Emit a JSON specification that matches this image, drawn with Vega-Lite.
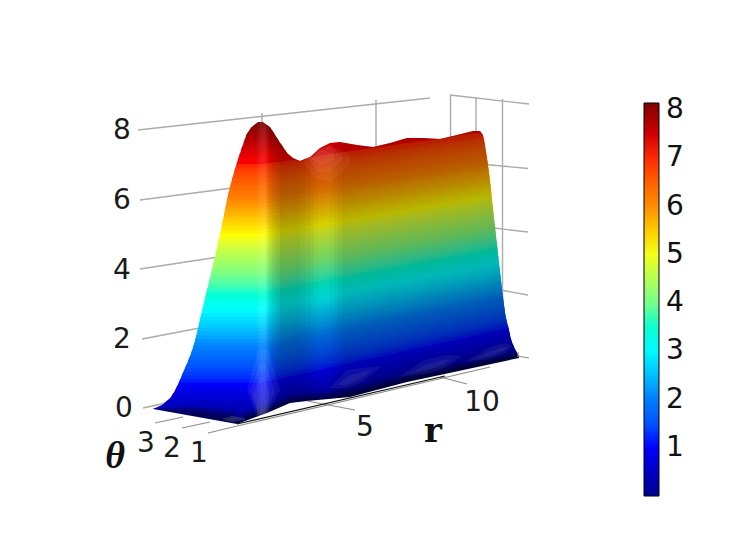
{"$schema":"https://vega.github.io/schema/vega-lite/v6.json","width":752,"height":536,"padding":0,"autosize":"none","background":"white","config":{"view":{"stroke":null}},
"datasets":{
"walls":[{"g":"a","u":138,"v":130},{"g":"a","u":430,"v":98},{"g":"b","u":140,"v":200},{"g":"b","u":240,"v":187},{"g":"c","u":140,"v":269},{"g":"c","u":225,"v":256},{"g":"d","u":142,"v":339},{"g":"d","u":205,"v":327},{"g":"e","u":143,"v":408},{"g":"e","u":175,"v":401},{"g":"f","u":262,"v":113},{"g":"f","u":262.01,"v":125},{"g":"h","u":376,"v":100},{"g":"h","u":376.01,"v":150},{"g":"i","u":450.5,"v":95},{"g":"i","u":450.51,"v":140},{"g":"j","u":476,"v":97},{"g":"j","u":476.01,"v":135},{"g":"k","u":502.5,"v":99},{"g":"k","u":502.51,"v":300},{"g":"l","u":450,"v":95},{"g":"l","u":529,"v":104},{"g":"m","u":480,"v":164},{"g":"m","u":528,"v":168.5},{"g":"n","u":485,"v":227},{"g":"n","u":528,"v":232},{"g":"o","u":495,"v":289},{"g":"o","u":528,"v":295}],
"floor":[{"g":"a","u":155,"v":423},{"g":"a","u":183,"v":417},{"g":"b","u":182,"v":428},{"g":"b","u":210,"v":422},{"g":"c","u":208,"v":433},{"g":"c","u":237,"v":426},{"g":"d","u":307,"v":401},{"g":"d","u":355,"v":410},{"g":"e","u":440,"v":377},{"g":"e","u":467,"v":384},{"g":"f","u":517,"v":356},{"g":"f","u":529,"v":358},{"g":"h","u":237,"v":426},{"g":"h","u":490,"v":367}],
"edge":[{"u":237,"v":424},{"u":445,"v":376}],
"levels":[
{"z":8.15,"u":250.9,"v":127.8},{"z":8.15,"u":255,"v":124.2},{"z":8.15,"u":258,"v":122},{"z":8.15,"u":263,"v":122},{"z":8.15,"u":266,"v":124.2},{"z":8.15,"u":270,"v":127},
{"z":8,"u":246.3,"v":135.1},{"z":8,"u":250.9,"v":127.8},{"z":8,"u":262,"v":127.8},{"z":8,"u":270,"v":127},{"z":8,"u":274.5,"v":134},
{"z":7.9,"u":246.3,"v":135.1},{"z":7.9,"u":248.6,"v":131.5},{"z":7.9,"u":262,"v":131.5},{"z":7.9,"u":272.2,"v":130.5},{"z":7.9,"u":274.5,"v":134},
{"z":7.8,"u":243.8,"v":142.4},{"z":7.8,"u":246.3,"v":135.1},{"z":7.8,"u":262,"v":135.1},{"z":7.8,"u":274.5,"v":134},{"z":7.8,"u":278.5,"v":140.5},
{"z":7.7,"u":243.8,"v":142.4},{"z":7.7,"u":245,"v":138.8},{"z":7.7,"u":262,"v":138.8},{"z":7.7,"u":276.5,"v":137.2},{"z":7.7,"u":278.5,"v":140.5},
{"z":7.6,"u":241.3,"v":149.6},{"z":7.6,"u":243.8,"v":142.4},{"z":7.6,"u":262,"v":142.4},{"z":7.6,"u":278.5,"v":140.5},{"z":7.6,"u":283,"v":147},
{"z":7.5,"u":241.3,"v":149.6},{"z":7.5,"u":242.5,"v":146},{"z":7.5,"u":262,"v":146},{"z":7.5,"u":280.7,"v":143.7},{"z":7.5,"u":283,"v":147},
{"z":7.4,"u":238.8,"v":156.9},{"z":7.4,"u":241.3,"v":149.6},{"z":7.4,"u":262,"v":149.6},{"z":7.4,"u":283,"v":147},{"z":7.4,"u":287,"v":153},
{"z":7.3,"u":238.8,"v":156.9},{"z":7.3,"u":240,"v":153.2},{"z":7.3,"u":262,"v":153.2},{"z":7.3,"u":285,"v":150},{"z":7.3,"u":287,"v":153},
{"z":7.2,"u":236.4,"v":164.2},{"z":7.2,"u":238.8,"v":156.9},{"z":7.2,"u":262,"v":156.9},{"z":7.2,"u":287,"v":153},{"z":7.2,"u":293,"v":158},{"z":7.2,"u":300,"v":161},{"z":7.2,"u":310,"v":157},{"z":7.2,"u":320,"v":148},{"z":7.2,"u":330,"v":143},{"z":7.2,"u":340,"v":142},{"z":7.2,"u":357,"v":145},{"z":7.2,"u":373,"v":147},{"z":7.2,"u":390,"v":143},{"z":7.2,"u":407,"v":138},{"z":7.2,"u":423,"v":138},{"z":7.2,"u":440,"v":139},{"z":7.2,"u":457,"v":135},{"z":7.2,"u":473,"v":131},{"z":7.2,"u":480,"v":131},{"z":7.2,"u":483,"v":135},
{"z":7,"u":234.3,"v":171.5},{"z":7,"u":236.4,"v":164.2},{"z":7,"u":262,"v":164.2},{"z":7,"u":293,"v":159.9},{"z":7,"u":300,"v":161},{"z":7,"u":310,"v":157.3},{"z":7,"u":320,"v":155.7},{"z":7,"u":340,"v":152.8},{"z":7,"u":373,"v":147.9},{"z":7,"u":390,"v":145.5},{"z":7,"u":407,"v":143},{"z":7,"u":440,"v":139},{"z":7,"u":457,"v":135.8},{"z":7,"u":473,"v":133.4},{"z":7,"u":482,"v":133.5},{"z":7,"u":483.7,"v":138.4},
{"z":6.9,"u":234.3,"v":171.5},{"z":6.9,"u":235.4,"v":167.8},{"z":6.9,"u":262,"v":167.8},{"z":6.9,"u":483.4,"v":136.5},{"z":6.9,"u":483.7,"v":138.4},
{"z":6.8,"u":232.3,"v":178.8},{"z":6.8,"u":234.3,"v":171.5},{"z":6.8,"u":262,"v":171.5},{"z":6.8,"u":483.7,"v":138.4},{"z":6.8,"u":485,"v":145},
{"z":6.7,"u":232.3,"v":178.8},{"z":6.7,"u":233.3,"v":175.2},{"z":6.7,"u":262,"v":175.2},{"z":6.7,"u":484.4,"v":141.7},{"z":6.7,"u":485,"v":145},
{"z":6.6,"u":230.3,"v":186},{"z":6.6,"u":232.3,"v":178.8},{"z":6.6,"u":262,"v":178.8},{"z":6.6,"u":485,"v":145},{"z":6.6,"u":486,"v":151.6},
{"z":6.5,"u":230.3,"v":186},{"z":6.5,"u":231.3,"v":182.4},{"z":6.5,"u":262,"v":182.4},{"z":6.5,"u":485.5,"v":148.3},{"z":6.5,"u":486,"v":151.6},
{"z":6.4,"u":228.5,"v":193.3},{"z":6.4,"u":230.3,"v":186},{"z":6.4,"u":262,"v":186},{"z":6.4,"u":486,"v":151.6},{"z":6.4,"u":487,"v":157.8},
{"z":6.3,"u":228.5,"v":193.3},{"z":6.3,"u":229.4,"v":189.7},{"z":6.3,"u":262,"v":189.7},{"z":6.3,"u":486.5,"v":154.7},{"z":6.3,"u":487,"v":157.8},
{"z":6.2,"u":226.9,"v":200.6},{"z":6.2,"u":228.5,"v":193.3},{"z":6.2,"u":262,"v":193.3},{"z":6.2,"u":487,"v":157.8},{"z":6.2,"u":488,"v":164.5},
{"z":6.1,"u":226.9,"v":200.6},{"z":6.1,"u":227.7,"v":197},{"z":6.1,"u":262,"v":197},{"z":6.1,"u":487.5,"v":161.2},{"z":6.1,"u":488,"v":164.5},
{"z":6,"u":225.4,"v":207.9},{"z":6,"u":226.9,"v":200.6},{"z":6,"u":262,"v":200.6},{"z":6,"u":488,"v":164.5},{"z":6,"u":488.8,"v":171},
{"z":5.9,"u":225.4,"v":207.9},{"z":5.9,"u":226.2,"v":204.3},{"z":5.9,"u":262,"v":204.3},{"z":5.9,"u":488.4,"v":167.8},{"z":5.9,"u":488.8,"v":171},
{"z":5.8,"u":224,"v":215.2},{"z":5.8,"u":225.4,"v":207.9},{"z":5.8,"u":262,"v":207.9},{"z":5.8,"u":488.8,"v":171},{"z":5.8,"u":489.8,"v":178},
{"z":5.7,"u":224,"v":215.2},{"z":5.7,"u":224.7,"v":211.6},{"z":5.7,"u":262,"v":211.6},{"z":5.7,"u":489.3,"v":174.5},{"z":5.7,"u":489.8,"v":178},
{"z":5.6,"u":222.5,"v":222.4},{"z":5.6,"u":224,"v":215.2},{"z":5.6,"u":262,"v":215.2},{"z":5.6,"u":489.8,"v":178},{"z":5.6,"u":490.4,"v":184.5},
{"z":5.5,"u":222.5,"v":222.4},{"z":5.5,"u":223.3,"v":218.8},{"z":5.5,"u":262,"v":218.8},{"z":5.5,"u":490.1,"v":181.3},{"z":5.5,"u":490.4,"v":184.5},
{"z":5.4,"u":221.1,"v":229.7},{"z":5.4,"u":222.5,"v":222.4},{"z":5.4,"u":262,"v":222.4},{"z":5.4,"u":490.4,"v":184.5},{"z":5.4,"u":491.2,"v":191},
{"z":5.3,"u":221.1,"v":229.7},{"z":5.3,"u":221.8,"v":226},{"z":5.3,"u":262,"v":226},{"z":5.3,"u":490.8,"v":187.8},{"z":5.3,"u":491.2,"v":191},
{"z":5.2,"u":219.5,"v":237},{"z":5.2,"u":221.1,"v":229.7},{"z":5.2,"u":262,"v":229.7},{"z":5.2,"u":491.2,"v":191},{"z":5.2,"u":491.8,"v":197.7},
{"z":5.1,"u":219.5,"v":237},{"z":5.1,"u":220.3,"v":233.4},{"z":5.1,"u":262,"v":233.4},{"z":5.1,"u":491.5,"v":194.4},{"z":5.1,"u":491.8,"v":197.7},
{"z":5,"u":217.9,"v":244.3},{"z":5,"u":219.5,"v":237},{"z":5,"u":262,"v":237},{"z":5,"u":491.8,"v":197.7},{"z":5,"u":492.5,"v":204.3},
{"z":4.9,"u":217.9,"v":244.3},{"z":4.9,"u":218.7,"v":240.7},{"z":4.9,"u":262,"v":240.7},{"z":4.9,"u":492.2,"v":201},{"z":4.9,"u":492.5,"v":204.3},
{"z":4.8,"u":216.2,"v":251.6},{"z":4.8,"u":217.9,"v":244.3},{"z":4.8,"u":262,"v":244.3},{"z":4.8,"u":492.5,"v":204.3},{"z":4.8,"u":493.2,"v":211},
{"z":4.7,"u":216.2,"v":251.6},{"z":4.7,"u":217,"v":248},{"z":4.7,"u":262,"v":248},{"z":4.7,"u":492.9,"v":207.7},{"z":4.7,"u":493.2,"v":211},
{"z":4.6,"u":214.6,"v":258.8},{"z":4.6,"u":216.2,"v":251.6},{"z":4.6,"u":262,"v":251.6},{"z":4.6,"u":493.2,"v":211},{"z":4.6,"u":493.8,"v":217.5},
{"z":4.5,"u":214.6,"v":258.8},{"z":4.5,"u":215.4,"v":255.2},{"z":4.5,"u":262,"v":255.2},{"z":4.5,"u":493.5,"v":214.3},{"z":4.5,"u":493.8,"v":217.5},
{"z":4.4,"u":212.8,"v":266.1},{"z":4.4,"u":214.6,"v":258.8},{"z":4.4,"u":262,"v":258.8},{"z":4.4,"u":493.8,"v":217.5},{"z":4.4,"u":494.5,"v":224},
{"z":4.3,"u":212.8,"v":266.1},{"z":4.3,"u":213.7,"v":262.5},{"z":4.3,"u":262,"v":262.5},{"z":4.3,"u":494.2,"v":220.8},{"z":4.3,"u":494.5,"v":224},
{"z":4.2,"u":211,"v":273.4},{"z":4.2,"u":212.8,"v":266.1},{"z":4.2,"u":262,"v":266.1},{"z":4.2,"u":494.5,"v":224},{"z":4.2,"u":495.3,"v":230.6},
{"z":4.1,"u":211,"v":273.4},{"z":4.1,"u":211.9,"v":269.8},{"z":4.1,"u":262,"v":269.8},{"z":4.1,"u":494.9,"v":227.3},{"z":4.1,"u":495.3,"v":230.6},
{"z":4,"u":209.3,"v":280.7},{"z":4,"u":211,"v":273.4},{"z":4,"u":262,"v":273.4},{"z":4,"u":495.3,"v":230.6},{"z":4,"u":496,"v":237},
{"z":3.9,"u":209.3,"v":280.7},{"z":3.9,"u":210.2,"v":277},{"z":3.9,"u":262,"v":277},{"z":3.9,"u":495.7,"v":233.8},{"z":3.9,"u":496,"v":237},
{"z":3.8,"u":207.5,"v":288},{"z":3.8,"u":209.3,"v":280.7},{"z":3.8,"u":262,"v":280.7},{"z":3.8,"u":496,"v":237},{"z":3.8,"u":497,"v":243.7},
{"z":3.7,"u":207.5,"v":288},{"z":3.7,"u":208.4,"v":284.4},{"z":3.7,"u":262,"v":284.4},{"z":3.7,"u":496.5,"v":240.4},{"z":3.7,"u":497,"v":243.7},
{"z":3.6,"u":205.8,"v":295.2},{"z":3.6,"u":207.5,"v":288},{"z":3.6,"u":262,"v":288},{"z":3.6,"u":497,"v":243.7},{"z":3.6,"u":497.5,"v":250.5},
{"z":3.5,"u":205.8,"v":295.2},{"z":3.5,"u":206.7,"v":291.6},{"z":3.5,"u":262,"v":291.6},{"z":3.5,"u":497.3,"v":247.1},{"z":3.5,"u":497.5,"v":250.5},
{"z":3.4,"u":204,"v":302.5},{"z":3.4,"u":205.8,"v":295.2},{"z":3.4,"u":262,"v":295.2},{"z":3.4,"u":497.5,"v":250.5},{"z":3.4,"u":498.3,"v":257},
{"z":3.3,"u":204,"v":302.5},{"z":3.3,"u":204.9,"v":298.9},{"z":3.3,"u":262,"v":298.9},{"z":3.3,"u":497.9,"v":253.8},{"z":3.3,"u":498.3,"v":257},
{"z":3.2,"u":202.3,"v":309.8},{"z":3.2,"u":204,"v":302.5},{"z":3.2,"u":262,"v":302.5},{"z":3.2,"u":498.3,"v":257},{"z":3.2,"u":499,"v":263.5},
{"z":3.1,"u":202.3,"v":309.8},{"z":3.1,"u":203.2,"v":306.2},{"z":3.1,"u":262,"v":306.2},{"z":3.1,"u":498.7,"v":260.3},{"z":3.1,"u":499,"v":263.5},
{"z":3,"u":200.6,"v":317},{"z":3,"u":202.3,"v":309.8},{"z":3,"u":262,"v":309.8},{"z":3,"u":499,"v":263.5},{"z":3,"u":500,"v":270},
{"z":2.9,"u":200.6,"v":317},{"z":2.9,"u":201.5,"v":313.4},{"z":2.9,"u":262,"v":313.4},{"z":2.9,"u":499.5,"v":266.8},{"z":2.9,"u":500,"v":270},
{"z":2.8,"u":198.9,"v":324.4},{"z":2.8,"u":200.6,"v":317},{"z":2.8,"u":262,"v":317},{"z":2.8,"u":500,"v":270},{"z":2.8,"u":500.5,"v":276.5},
{"z":2.7,"u":198.9,"v":324.4},{"z":2.7,"u":199.8,"v":320.7},{"z":2.7,"u":262,"v":320.7},{"z":2.7,"u":500.3,"v":273.3},{"z":2.7,"u":500.5,"v":276.5},
{"z":2.6,"u":197.2,"v":331.6},{"z":2.6,"u":198.9,"v":324.4},{"z":2.6,"u":262,"v":324.4},{"z":2.6,"u":500.5,"v":276.5},{"z":2.6,"u":501.3,"v":283},
{"z":2.5,"u":197.2,"v":331.6},{"z":2.5,"u":198.1,"v":328},{"z":2.5,"u":262,"v":328},{"z":2.5,"u":500.9,"v":279.8},{"z":2.5,"u":501.3,"v":283},
{"z":2.4,"u":195.5,"v":338.9},{"z":2.4,"u":197.2,"v":331.6},{"z":2.4,"u":262,"v":331.6},{"z":2.4,"u":501.3,"v":283},{"z":2.4,"u":502,"v":290},
{"z":2.3,"u":195.5,"v":338.9},{"z":2.3,"u":196.4,"v":335.3},{"z":2.3,"u":262,"v":335.3},{"z":2.3,"u":501.7,"v":286.5},{"z":2.3,"u":502,"v":290},
{"z":2.2,"u":193.4,"v":346.2},{"z":2.2,"u":195.5,"v":338.9},{"z":2.2,"u":262,"v":338.9},{"z":2.2,"u":502,"v":290},{"z":2.2,"u":503,"v":296},
{"z":2.1,"u":193.4,"v":346.2},{"z":2.1,"u":194.5,"v":342.6},{"z":2.1,"u":262,"v":342.6},{"z":2.1,"u":502.5,"v":293},{"z":2.1,"u":503,"v":296},
{"z":2,"u":191,"v":353.5},{"z":2,"u":193.4,"v":346.2},{"z":2,"u":262,"v":346.2},{"z":2,"u":503,"v":296},{"z":2,"u":503.7,"v":303},
{"z":1.9,"u":191,"v":353.5},{"z":1.9,"u":192.2,"v":349.9},{"z":1.9,"u":262,"v":349.9},{"z":1.9,"u":503.4,"v":299.5},{"z":1.9,"u":503.7,"v":303},
{"z":1.8,"u":188.2,"v":360.8},{"z":1.8,"u":191,"v":353.5},{"z":1.8,"u":262,"v":353.5},{"z":1.8,"u":503.7,"v":303},{"z":1.8,"u":504.5,"v":309},
{"z":1.7,"u":188.2,"v":360.8},{"z":1.7,"u":189.6,"v":357.2},{"z":1.7,"u":262,"v":357.2},{"z":1.7,"u":504.1,"v":306},{"z":1.7,"u":504.5,"v":309},
{"z":1.6,"u":185,"v":368},{"z":1.6,"u":188.2,"v":360.8},{"z":1.6,"u":262,"v":360.8},{"z":1.6,"u":504.5,"v":309},{"z":1.6,"u":505.5,"v":316},
{"z":1.5,"u":185,"v":368},{"z":1.5,"u":186.6,"v":364.4},{"z":1.5,"u":262,"v":364.4},{"z":1.5,"u":505,"v":312.5},{"z":1.5,"u":505.5,"v":316},
{"z":1.4,"u":181.9,"v":375.3},{"z":1.4,"u":185,"v":368},{"z":1.4,"u":262,"v":368},{"z":1.4,"u":505.5,"v":316},{"z":1.4,"u":507,"v":322},
{"z":1.3,"u":181.9,"v":375.3},{"z":1.3,"u":183.5,"v":371.7},{"z":1.3,"u":262,"v":371.7},{"z":1.3,"u":506.3,"v":319},{"z":1.3,"u":507,"v":322},
{"z":1.2,"u":178.9,"v":382.6},{"z":1.2,"u":181.9,"v":375.3},{"z":1.2,"u":262,"v":375.3},{"z":1.2,"u":507,"v":322},{"z":1.2,"u":508.5,"v":328},
{"z":1.1,"u":178.9,"v":382.6},{"z":1.1,"u":180.4,"v":379},{"z":1.1,"u":262,"v":379},{"z":1.1,"u":507.8,"v":325},{"z":1.1,"u":508.5,"v":328},
{"z":1,"u":175.3,"v":389.9},{"z":1,"u":178.9,"v":382.6},{"z":1,"u":262,"v":382.6},{"z":1,"u":508.5,"v":328},{"z":1,"u":510,"v":335},
{"z":0.9,"u":175.3,"v":389.9},{"z":0.9,"u":177.1,"v":386.3},{"z":0.9,"u":262,"v":386.3},{"z":0.9,"u":509.3,"v":331.5},{"z":0.9,"u":510,"v":335},
{"z":0.8,"u":170.9,"v":397.2},{"z":0.8,"u":175.3,"v":389.9},{"z":0.8,"u":262,"v":389.9},{"z":0.8,"u":510,"v":335},{"z":0.8,"u":511.5,"v":341},
{"z":0.7,"u":170.9,"v":397.2},{"z":0.7,"u":173.1,"v":393.6},{"z":0.7,"u":262,"v":393.6},{"z":0.7,"u":510.8,"v":338},{"z":0.7,"u":511.5,"v":341},
{"z":0.6,"u":163,"v":404.4},{"z":0.6,"u":170.9,"v":397.2},{"z":0.6,"u":262,"v":397.2},{"z":0.6,"u":511.5,"v":341},{"z":0.6,"u":514,"v":347},
{"z":0.5,"u":163,"v":404.4},{"z":0.5,"u":167,"v":400.8},{"z":0.5,"u":262,"v":400.8},{"z":0.5,"u":512.8,"v":344},{"z":0.5,"u":514,"v":347},
{"z":0.4,"u":153,"v":409},{"z":0.4,"u":163,"v":404.4},{"z":0.4,"u":262,"v":404.4},{"z":0.4,"u":514,"v":347},{"z":0.4,"u":517,"v":353},
{"z":0.3,"u":153,"v":409},{"z":0.3,"u":155,"v":408},{"z":0.3,"u":262,"v":408},{"z":0.3,"u":515.5,"v":350},{"z":0.3,"u":517,"v":353},
{"z":0.2,"u":168,"v":411.7},{"z":0.2,"u":262,"v":411.7},{"z":0.2,"u":517,"v":353},{"z":0.2,"u":519,"v":358},
{"z":0.1,"u":185,"v":415.4},{"z":0.1,"u":262,"v":415.4},{"z":0.1,"u":518,"v":355.5},{"z":0.1,"u":519,"v":358},
{"z":0,"u":209,"v":419},{"z":0,"u":262,"v":419},{"z":0,"u":519,"v":358}],
"dark":[
{"g":"a1","s":0.05,"u":266,"v":124.2},{"g":"a1","s":0.05,"u":268,"v":125.6},
{"g":"a2","s":0.1,"u":268,"v":125.6},{"g":"a2","s":0.1,"u":270,"v":127},
{"g":"b1","s":0.14,"u":270,"v":127},{"g":"b1","s":0.14,"u":272,"v":130.2},
{"g":"b2","s":0.18,"u":272,"v":130.2},{"g":"b2","s":0.18,"u":274,"v":133.3},
{"g":"c1","s":0.22,"u":274,"v":133.3},{"g":"c1","s":0.22,"u":277,"v":138},
{"g":"c2","s":0.26,"u":277,"v":138},{"g":"c2","s":0.26,"u":280,"v":142.5},
{"g":"d","s":0.3,"u":280,"v":142.5},{"g":"d","s":0.3,"u":287,"v":153},{"g":"d","s":0.3,"u":293,"v":158},{"g":"d","s":0.3,"u":300,"v":161},
{"g":"e1","s":0.28,"u":300,"v":161},{"g":"e1","s":0.28,"u":305,"v":159},
{"g":"e2","s":0.25,"u":305,"v":159},{"g":"e2","s":0.25,"u":310,"v":157},
{"g":"f1","s":0.22,"u":310,"v":157},{"g":"f1","s":0.22,"u":314,"v":153.4},
{"g":"f2","s":0.19,"u":314,"v":153.4},{"g":"f2","s":0.19,"u":318,"v":149.8},
{"g":"h","s":0.17,"u":318,"v":149.8},{"g":"h","s":0.17,"u":320,"v":148},{"g":"h","s":0.17,"u":330,"v":143},
{"g":"h2","s":0.19,"u":330,"v":143},{"g":"h2","s":0.19,"u":334,"v":142.6},
{"g":"i1","s":0.22,"u":334,"v":142.6},{"g":"i1","s":0.22,"u":338,"v":142.2},
{"g":"i2","s":0.25,"u":338,"v":142.2},{"g":"i2","s":0.25,"u":342,"v":142.4},
{"g":"j","s":0.28,"u":342,"v":142.4},{"g":"j","s":0.28,"u":357,"v":145},{"g":"j","s":0.28,"u":373,"v":147},{"g":"j","s":0.28,"u":390,"v":143},{"g":"j","s":0.28,"u":407,"v":138},{"g":"j","s":0.28,"u":423,"v":138},{"g":"j","s":0.28,"u":440,"v":139},{"g":"j","s":0.28,"u":457,"v":135},{"g":"j","s":0.28,"u":473,"v":131},{"g":"j","s":0.28,"u":480,"v":131},{"g":"j","s":0.28,"u":483,"v":135},{"g":"j","s":0.28,"u":487,"v":157.8},{"g":"j","s":0.28,"u":490.4,"v":184.5},{"g":"j","s":0.28,"u":497,"v":243.7},{"g":"j","s":0.28,"u":501.3,"v":283},{"g":"j","s":0.28,"u":505.5,"v":316},{"g":"j","s":0.28,"u":511.5,"v":341},{"g":"j","s":0.28,"u":519,"v":358}],
"band":[
{"g":"a","s":0.25,"u":153,"v":409,"w":409},{"g":"a","s":0.25,"u":195,"v":407,"w":417},{"g":"a","s":0.25,"u":237,"v":412,"w":424},
{"g":"b","s":0.25,"u":153,"v":409,"w":409},{"g":"b","s":0.25,"u":195,"v":411,"w":417},{"g":"b","s":0.25,"u":237,"v":418,"w":424},
{"g":"c","s":0.25,"u":237,"v":416,"w":424},{"g":"c","s":0.25,"u":267,"v":405,"w":413},{"g":"c","s":0.25,"u":290,"v":396,"w":403},{"g":"c","s":0.25,"u":307,"v":394,"w":401},{"g":"c","s":0.25,"u":350,"v":389,"w":397},{"g":"c","s":0.25,"u":407,"v":374,"w":382},{"g":"c","s":0.25,"u":440,"v":367,"w":375},{"g":"c","s":0.25,"u":519,"v":352,"w":358},
{"g":"d","s":0.3,"u":237,"v":420,"w":424},{"g":"d","s":0.3,"u":267,"v":409,"w":413},{"g":"d","s":0.3,"u":290,"v":400,"w":403},{"g":"d","s":0.3,"u":307,"v":398,"w":401},{"g":"d","s":0.3,"u":350,"v":393,"w":397},{"g":"d","s":0.3,"u":407,"v":378,"w":382},{"g":"d","s":0.3,"u":440,"v":371,"w":375},{"g":"d","s":0.3,"u":519,"v":355,"w":358}],
"light":[
{"g":"a","s":0.05,"u":257,"v":122.8,"w":420},{"g":"a","s":0.05,"u":263,"v":122,"w":420},{"g":"a","s":0.05,"u":269,"v":126.5,"w":418},
{"g":"b","s":0.05,"u":260,"v":122,"w":420},{"g":"b","s":0.05,"u":263,"v":122,"w":420},{"g":"b","s":0.05,"u":266,"v":124.2,"w":418},
{"g":"c1","s":0.06,"u":247,"v":390,"w":390},{"g":"c1","s":0.06,"u":258,"v":350,"w":420},{"g":"c1","s":0.06,"u":268,"v":350,"w":414},{"g":"c1","s":0.06,"u":280,"v":390,"w":390},
{"g":"c2","s":0.06,"u":250,"v":392,"w":392},{"g":"c2","s":0.06,"u":259,"v":364,"w":418},{"g":"c2","s":0.06,"u":266,"v":364,"w":414},{"g":"c2","s":0.06,"u":275,"v":392,"w":392},
{"g":"c3","s":0.06,"u":253,"v":395,"w":395},{"g":"c3","s":0.06,"u":259,"v":378,"w":416},{"g":"c3","s":0.06,"u":265,"v":378,"w":412},{"g":"c3","s":0.06,"u":270,"v":395,"w":395},
{"g":"e1","s":0.06,"u":303,"v":162,"w":162},{"g":"e1","s":0.06,"u":315,"v":152,"w":178},{"g":"e1","s":0.06,"u":330,"v":145,"w":182},{"g":"e1","s":0.06,"u":350,"v":155,"w":165},
{"g":"e2","s":0.06,"u":308,"v":160,"w":160},{"g":"e2","s":0.06,"u":318,"v":150,"w":172},{"g":"e2","s":0.06,"u":330,"v":146,"w":172},{"g":"e2","s":0.06,"u":342,"v":156,"w":160},
{"g":"e3","s":0.06,"u":311,"v":159,"w":159},{"g":"e3","s":0.06,"u":321,"v":150,"w":165},{"g":"e3","s":0.06,"u":334,"v":153,"w":160},
{"g":"h1","s":0.06,"u":330,"v":388,"w":388},{"g":"h1","s":0.06,"u":347,"v":370,"w":388},{"g":"h1","s":0.06,"u":362,"v":368,"w":382},{"g":"h1","s":0.06,"u":382,"v":366,"w":366},
{"g":"h2","s":0.06,"u":338,"v":385,"w":385},{"g":"h2","s":0.06,"u":348,"v":376,"w":385},{"g":"h2","s":0.06,"u":360,"v":373,"w":379},{"g":"h2","s":0.06,"u":372,"v":370,"w":370},
{"g":"i1","s":0.06,"u":398,"v":377,"w":377},{"g":"i1","s":0.06,"u":425,"v":360,"w":374},{"g":"i1","s":0.06,"u":445,"v":355,"w":368},{"g":"i1","s":0.06,"u":462,"v":356,"w":356},
{"g":"i2","s":0.06,"u":408,"v":374,"w":374},{"g":"i2","s":0.06,"u":425,"v":365,"w":371},{"g":"i2","s":0.06,"u":442,"v":360,"w":365},{"g":"i2","s":0.06,"u":452,"v":359,"w":359},
{"g":"j1","s":0.06,"u":465,"v":362,"w":362},{"g":"j1","s":0.06,"u":490,"v":347,"w":359},{"g":"j1","s":0.06,"u":505,"v":343,"w":353},{"g":"j1","s":0.06,"u":513,"v":346,"w":346},
{"g":"j2","s":0.06,"u":475,"v":359,"w":359},{"g":"j2","s":0.06,"u":490,"v":351,"w":356},{"g":"j2","s":0.06,"u":503,"v":347,"w":351},{"g":"j2","s":0.06,"u":510,"v":347,"w":347},
{"g":"k","s":0.15,"u":222,"v":419,"w":419},{"g":"k","s":0.15,"u":232,"v":416,"w":422},{"g":"k","s":0.15,"u":245,"v":418,"w":420}],
"mask":[{"u":153,"v":409},{"u":237,"v":424},{"u":267,"v":413},{"u":290,"v":403},{"u":307,"v":401},{"u":350,"v":397},{"u":407,"v":382},{"u":440,"v":375},{"u":519,"v":358},{"u":522,"v":357.5}],
"ticks":[{"label":"8","u":122,"v":131},{"label":"6","u":122,"v":201},{"label":"4","u":122,"v":271},{"label":"2","u":122,"v":340},{"label":"0","u":124,"v":409},{"label":"3","u":146,"v":444},{"label":"2","u":172,"v":449},{"label":"1","u":199,"v":454},{"label":"5","u":365,"v":428},{"label":"10","u":482,"v":403}],
"barticks":[{"a":644,"b":647,"v":110},{"a":656,"b":659,"v":110},{"a":644,"b":647,"v":158},{"a":656,"b":659,"v":158},{"a":644,"b":647,"v":206},{"a":656,"b":659,"v":206},{"a":644,"b":647,"v":254},{"a":656,"b":659,"v":254},{"a":644,"b":647,"v":302},{"a":656,"b":659,"v":302},{"a":644,"b":647,"v":350},{"a":656,"b":659,"v":350},{"a":644,"b":647,"v":398},{"a":656,"b":659,"v":398},{"a":644,"b":647,"v":446},{"a":656,"b":659,"v":446}]
},
"encoding":{"x":{"field":"u","type":"quantitative","scale":{"domain":[0,752],"nice":false,"zero":false},"axis":null},"y":{"field":"v","type":"quantitative","scale":{"domain":[536,0],"nice":false,"zero":false},"axis":null}},
"layer":[
{"data":{"name":"walls"},"mark":{"type":"line","color":"#ababab","strokeWidth":1.4},"encoding":{"detail":{"field":"g"}}},
{"data":{"name":"levels"},"mark":{"type":"area","clip":true},"encoding":{"y2":{"datum":445},"detail":{"field":"z","type":"nominal"},"color":{"field":"z","type":"quantitative","scale":{"domain":[0,1.01875,2.0375,3.05625,4.075,5.09375,6.1125,7.13125,8.15],"range":["#00008f","#0000ff","#0080ff","#00ffff","#80ff80","#ffff00","#ff8000","#ff0000","#800000"]},"legend":{"orient":"none","legendX":644,"legendY":103,"title":null,"direction":"vertical","type":"gradient","gradientLength":393,"gradientThickness":15,"gradientStrokeColor":"#000","gradientStrokeWidth":1,"labelFont":"DejaVu Sans","labelFontSize":28,"labelColor":"#111","labelOffset":7,"values":[1,2,3,4,5,6,7,8]}}}},
{"data":{"name":"dark"},"mark":{"type":"area","color":"#000"},"encoding":{"y2":{"datum":445},"detail":{"field":"g"},"opacity":{"field":"s","type":"quantitative","scale":{"domain":[0,1],"range":[0,1]},"legend":null}}},
{"data":{"name":"band"},"mark":{"type":"area","color":"#000"},"encoding":{"y2":{"field":"w"},"detail":{"field":"g"},"opacity":{"field":"s","type":"quantitative","scale":{"domain":[0,1],"range":[0,1]},"legend":null}}},
{"data":{"name":"light"},"mark":{"type":"area","color":"#fff"},"encoding":{"y2":{"field":"w"},"detail":{"field":"g"},"opacity":{"field":"s","type":"quantitative","scale":{"domain":[0,1],"range":[0,1]},"legend":null}}},
{"data":{"name":"mask"},"mark":{"type":"area","color":"#fff"},"encoding":{"y2":{"datum":445}}},
{"data":{"name":"floor"},"mark":{"type":"line","color":"#8f8f8f","strokeWidth":1.2},"encoding":{"detail":{"field":"g"}}},
{"data":{"name":"edge"},"mark":{"type":"line","color":"#111","strokeWidth":1.2}},
{"data":{"name":"ticks"},"mark":{"type":"text","font":"DejaVu Sans","fontSize":28,"color":"#1a1a1a","baseline":"middle","align":"center"},"encoding":{"text":{"field":"label"}}},
{"data":{"values":[{"label":"r","u":433,"v":432}]},"mark":{"type":"text","font":"DejaVu Serif","fontWeight":"bold","fontSize":34,"color":"#111","baseline":"middle","align":"center"},"encoding":{"text":{"field":"label"}}},
{"data":{"values":[{"label":"θ","u":115,"v":457}]},"mark":{"type":"text","font":"Liberation Serif","fontWeight":"bold","fontStyle":"italic","fontSize":38,"color":"#111","baseline":"middle","align":"center"},"encoding":{"text":{"field":"label"}}},
{"data":{"name":"barticks"},"mark":{"type":"rule","color":"#000","strokeWidth":1},"encoding":{"x":{"field":"a","type":"quantitative"},"x2":{"field":"b"}}}
]}
